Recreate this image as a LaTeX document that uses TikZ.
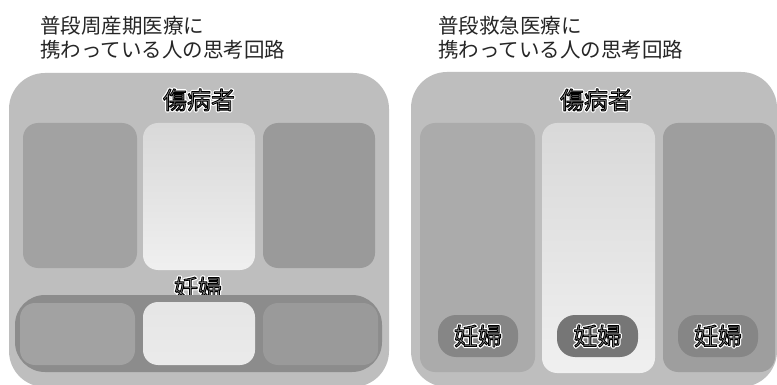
\documentclass[tikz,border=0pt]{standalone}
\usepackage{fontspec}
\newfontfamily\jp{Noto Sans CJK JP}
\definecolor{panel}{HTML}{BEBEBE}
\definecolor{sidebox}{HTML}{A2A2A2}
\definecolor{sidebox2}{HTML}{9A9A9A}
\definecolor{band}{HTML}{8C8C8C}
\definecolor{pill}{HTML}{868686}
\definecolor{pillmid}{HTML}{767676}
\definecolor{txtgray}{HTML}{8E8E8E}
\newcommand\halo[1]{%
\rlap{\color{white}\special{pdf:literal direct q 1 Tr 3.4 w 1 j 1 1 1 RG}#1\special{pdf:literal direct Q}}%
{\color{txtgray}\special{pdf:literal direct q 2 Tr 0.9 w 1 j 0 G}#1\special{pdf:literal direct Q}}}
\tikzset{
  outer/.style={fill=panel, rounded corners=36pt, minimum width=#1, inner sep=0pt},
  box/.style={rounded corners=15pt, inner sep=0pt},
  title/.style={font=\jp\fontsize{20.5pt}{24pt}\selectfont, anchor=west, inner sep=0pt, text=black!85},
  lbl/.style={font=\jp\fontsize{24pt}{26pt}\selectfont, inner sep=0pt},
}
\begin{document}
\begin{tikzpicture}[x=1pt,y=-1pt]
\useasboundingbox (0,0) rectangle (777,385);
\fill[white] (0,0) rectangle (777,385);
% titles
\node[title] (t1a) at (40,26) {普段周産期医療に};
\node[title] (t1b) at (40,50) {携わっている人の思考回路};
\node[title] (t2a) at (438,26) {普段救急医療に};
\node[title] (t2b) at (438,50) {携わっている人の思考回路};
% left panel
\node[outer=380pt, minimum height=314pt] (lp) at (199,230) {};
\node[lbl] (lh) at (199,100) {\halo{傷病者}};
\node[box, fill=sidebox, minimum width=114pt, minimum height=145pt] (la) at (80,195.5) {};
\node[box, top color=black!15, bottom color=black!6, minimum width=112pt, minimum height=147pt] (lb) at (199,196.5) {};
\node[box, fill=sidebox2, minimum width=112pt, minimum height=145pt] (lc) at (319,195.5) {};
\node[lbl] (lpreg) at (198,288) {\halo{妊婦}};
\node[fill=band, rounded corners=30pt, minimum width=367pt, minimum height=77pt, inner sep=0pt] (lband) at (198.5,333.5) {};
\node[box, fill=sidebox, minimum width=115pt, minimum height=62pt] (ld) at (77.5,334) {};
\node[box, top color=black!10, bottom color=black!8, minimum width=112pt, minimum height=63pt] (le) at (199,333.5) {};
\node[box, fill=sidebox2, minimum width=115pt, minimum height=62pt] (lf) at (320.5,334) {};
% right panel
\node[outer=366pt, minimum height=315pt] (rp) at (594,229.5) {};
\node[lbl] (rh) at (596,100) {\halo{傷病者}};
\node[box, fill=black!33, minimum width=115pt, minimum height=249pt] (ra) at (477.5,247.5) {};
\node[box, top color=black!15, bottom color=black!6, minimum width=113pt, minimum height=250pt] (rb) at (598.5,248) {};
\node[box, fill=black!38, minimum width=112pt, minimum height=249pt] (rc) at (719,247.5) {};
\node[box, rounded corners=18pt, fill=pill, minimum width=80pt, minimum height=42pt] (rpa) at (478,336) {};
\node[box, rounded corners=18pt, fill=pillmid, minimum width=81pt, minimum height=42pt] (rpb) at (597.5,336) {};
\node[box, rounded corners=18pt, fill=pill, minimum width=80pt, minimum height=42pt] (rpc) at (718,336) {};
\node[lbl] (rpta) at (rpa) {\halo{妊婦}};
\node[lbl] (rptb) at (rpb) {\halo{妊婦}};
\node[lbl] (rptc) at (rpc) {\halo{妊婦}};
\end{tikzpicture}
\end{document}
